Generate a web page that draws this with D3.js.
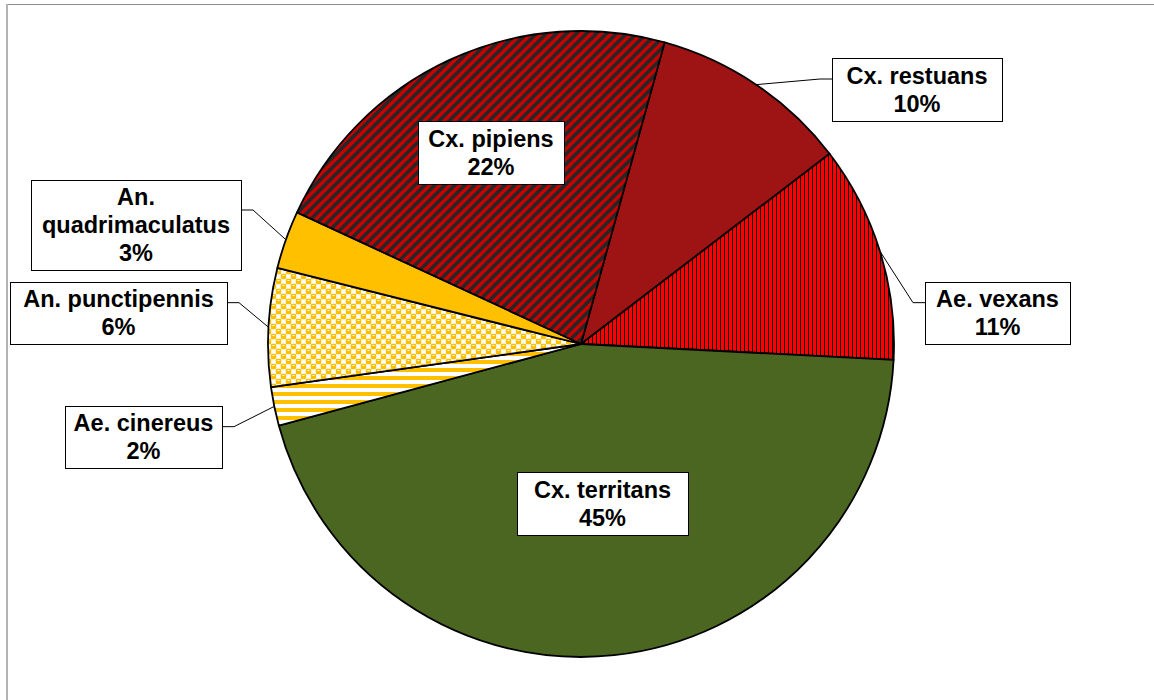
<!DOCTYPE html>
<html>
<head>
<meta charset="utf-8">
<script src="https://cdn.jsdelivr.net/npm/d3@7"></script>
<style>
  html, body { margin: 0; padding: 0; background: #fff; }
  svg { display: block; }
  text { font-family: "Liberation Sans", Arial, sans-serif; font-weight: bold; }
</style>
</head>
<body>
<svg id="chart" width="1154" height="700"></svg>
<script>
// ---- data ----
const categories = ["Cx. restuans", "Ae. vexans", "Cx. territans", "Ae. cinereus",
                    "An. punctipennis", "An. quadrimaculatus", "Cx. pipiens"];
const values = [10.3, 11.2, 45.0, 2.0, 6.1, 3.0, 22.4];
const percentLabels = ["10%", "11%", "45%", "2%", "6%", "3%", "22%"];
const labelLines = [["Cx. restuans"], ["Ae. vexans"], ["Cx. territans"], ["Ae. cinereus"],
                    ["An. punctipennis"], ["An.", "quadrimaculatus"], ["Cx. pipiens"]];

// ---- layout (not data) ----
const cx = 581, cy = 344, R = 313;
const startDeg = 15.5;
const fills = ["#9e1414", "url(#pVexans)", "#4a6621", "url(#pCinereus)",
               "url(#pPunct)", "#ffc000", "url(#pPipiens)"];
// label boxes [x0, y0, x1, y1]
const labelBoxes = [[832, 58, 1002, 121], [925, 282, 1070, 344], [517, 472, 688, 535],
                    [65, 406, 222, 468], [10, 282, 227, 344], [31, 180, 241, 270],
                    [418, 121, 564, 184]];
const hasLeader = [true, true, false, true, true, true, false];

const svg = d3.select("#chart");
const defs = svg.append("defs");

// patterns
const pv = defs.append("pattern").attr("id", "pVexans").attr("patternUnits", "userSpaceOnUse")
  .attr("width", 4).attr("height", 4);
pv.append("rect").attr("width", 4).attr("height", 4).attr("fill", "#ff0000");
pv.append("rect").attr("x", 3).attr("width", 1).attr("height", 4).attr("fill", "#000");

const pc = defs.append("pattern").attr("id", "pCinereus").attr("patternUnits", "userSpaceOnUse")
  .attr("width", 8).attr("height", 8);
pc.append("rect").attr("width", 8).attr("height", 8).attr("fill", "#fff");
pc.append("rect").attr("width", 8).attr("height", 4).attr("fill", "#ffc000");

const P = 10, h = P / 2, s = 5.4;
const pp = defs.append("pattern").attr("id", "pPunct").attr("patternUnits", "userSpaceOnUse")
  .attr("width", P).attr("height", P);
pp.append("rect").attr("width", P).attr("height", P).attr("fill", "#fff");
const centers = [];
[[h / 2, h / 2], [h * 1.5, h * 1.5]].forEach(([x, y]) => {
  [-P, 0, P].forEach(ox => [-P, 0, P].forEach(oy => centers.push([x + ox, y + oy])));
});
centers.forEach(([x, y]) => pp.append("rect").attr("x", x - s / 2).attr("y", y - s / 2)
    .attr("width", s).attr("height", s).attr("rx", 1.4).attr("fill", "#ffc000"));
pp.append("rect").attr("x", h / 2 - 1).attr("y", h / 2 - 1.5).attr("width", 2).attr("height", 1).attr("fill", "#fff");
pp.append("rect").attr("x", h * 1.5 - 1).attr("y", h * 1.5 - 1.5).attr("width", 2).attr("height", 1).attr("fill", "#fff");

const pd = defs.append("pattern").attr("id", "pPipiens").attr("patternUnits", "userSpaceOnUse")
  .attr("width", 10).attr("height", 10);
pd.append("rect").attr("width", 10).attr("height", 10).attr("fill", "#262626");
pd.append("path").attr("stroke", "#c80000").attr("stroke-width", 3.4)
  .attr("d", "M-1,11L11,-1M-6,6L6,-6M4,16L16,4");

// chart area border
svg.append("line").attr("x1", 6).attr("x2", 1160).attr("y1", 4.5).attr("y2", 4.5)
  .attr("stroke", "#8c8c8c").attr("stroke-width", 1);
svg.append("line").attr("x1", 7).attr("x2", 7).attr("y1", 4).attr("y2", 710)
  .attr("stroke", "#b4b4b4").attr("stroke-width", 2);

const data = categories.map((c, i) => ({ name: c, value: values[i], pct: percentLabels[i], lines: labelLines[i], i }));

const toRad = d => d * Math.PI / 180;
const pie = d3.pie().sort(null).value(d => d.value)
  .startAngle(toRad(startDeg)).endAngle(toRad(startDeg) + 2 * Math.PI);
const arcs = pie(data);
const arc = d3.arc().innerRadius(0).outerRadius(R);

const g = svg.append("g").attr("transform", `translate(${cx},${cy})`);
g.selectAll("path.slice").data(arcs).join("path")
  .attr("class", "slice")
  .attr("d", arc)
  .attr("fill", d => fills[d.data.i])
  .attr("stroke", "#000").attr("stroke-width", 1.8).attr("stroke-linejoin", "round");

// labels
const fontSize = 23.5, lineH = 28, capH = fontSize * 0.716;
const lg = svg.append("g");
arcs.forEach(a => {
  const d = a.data;
  const [x0, y0, x1, y1] = labelBoxes[d.i];
  const lx = (x0 + x1) / 2, ly = (y0 + y1) / 2;
  const lines = d.lines.concat([d.pct]);
  if (hasLeader[d.i]) {
    const mid = (a.startAngle + a.endAngle) / 2;
    const px = cx + R * Math.sin(mid), py = cy - R * Math.cos(mid);
    const right = lx < cx;
    const ax = right ? x1 : x0;
    const ay = y0 + (y1 - y0) / 3;
    const ex = right ? ax + 12 : ax - 12;
    lg.insert("polyline", ":first-child")
      .attr("points", `${ax},${ay} ${ex},${ay} ${px},${py}`)
      .attr("fill", "none").attr("stroke", "#000").attr("stroke-width", 1);
  }
  const grp = lg.append("g");
  grp.append("rect").attr("x", x0 + 0.5).attr("y", y0 + 0.5).attr("width", x1 - x0).attr("height", y1 - y0)
    .attr("fill", "#fff").attr("stroke", "#000").attr("stroke-width", 1);
  const t = grp.append("text").attr("text-anchor", "middle").attr("font-size", fontSize).attr("fill", "#000");
  const totalH = lines.length * lineH;
  lines.forEach((s, k) => {
    t.append("tspan").attr("x", lx).attr("y", ly - totalH / 2 + lineH * k + lineH / 2 + capH / 2).text(s);
  });
});
</script>
</body>
</html>
